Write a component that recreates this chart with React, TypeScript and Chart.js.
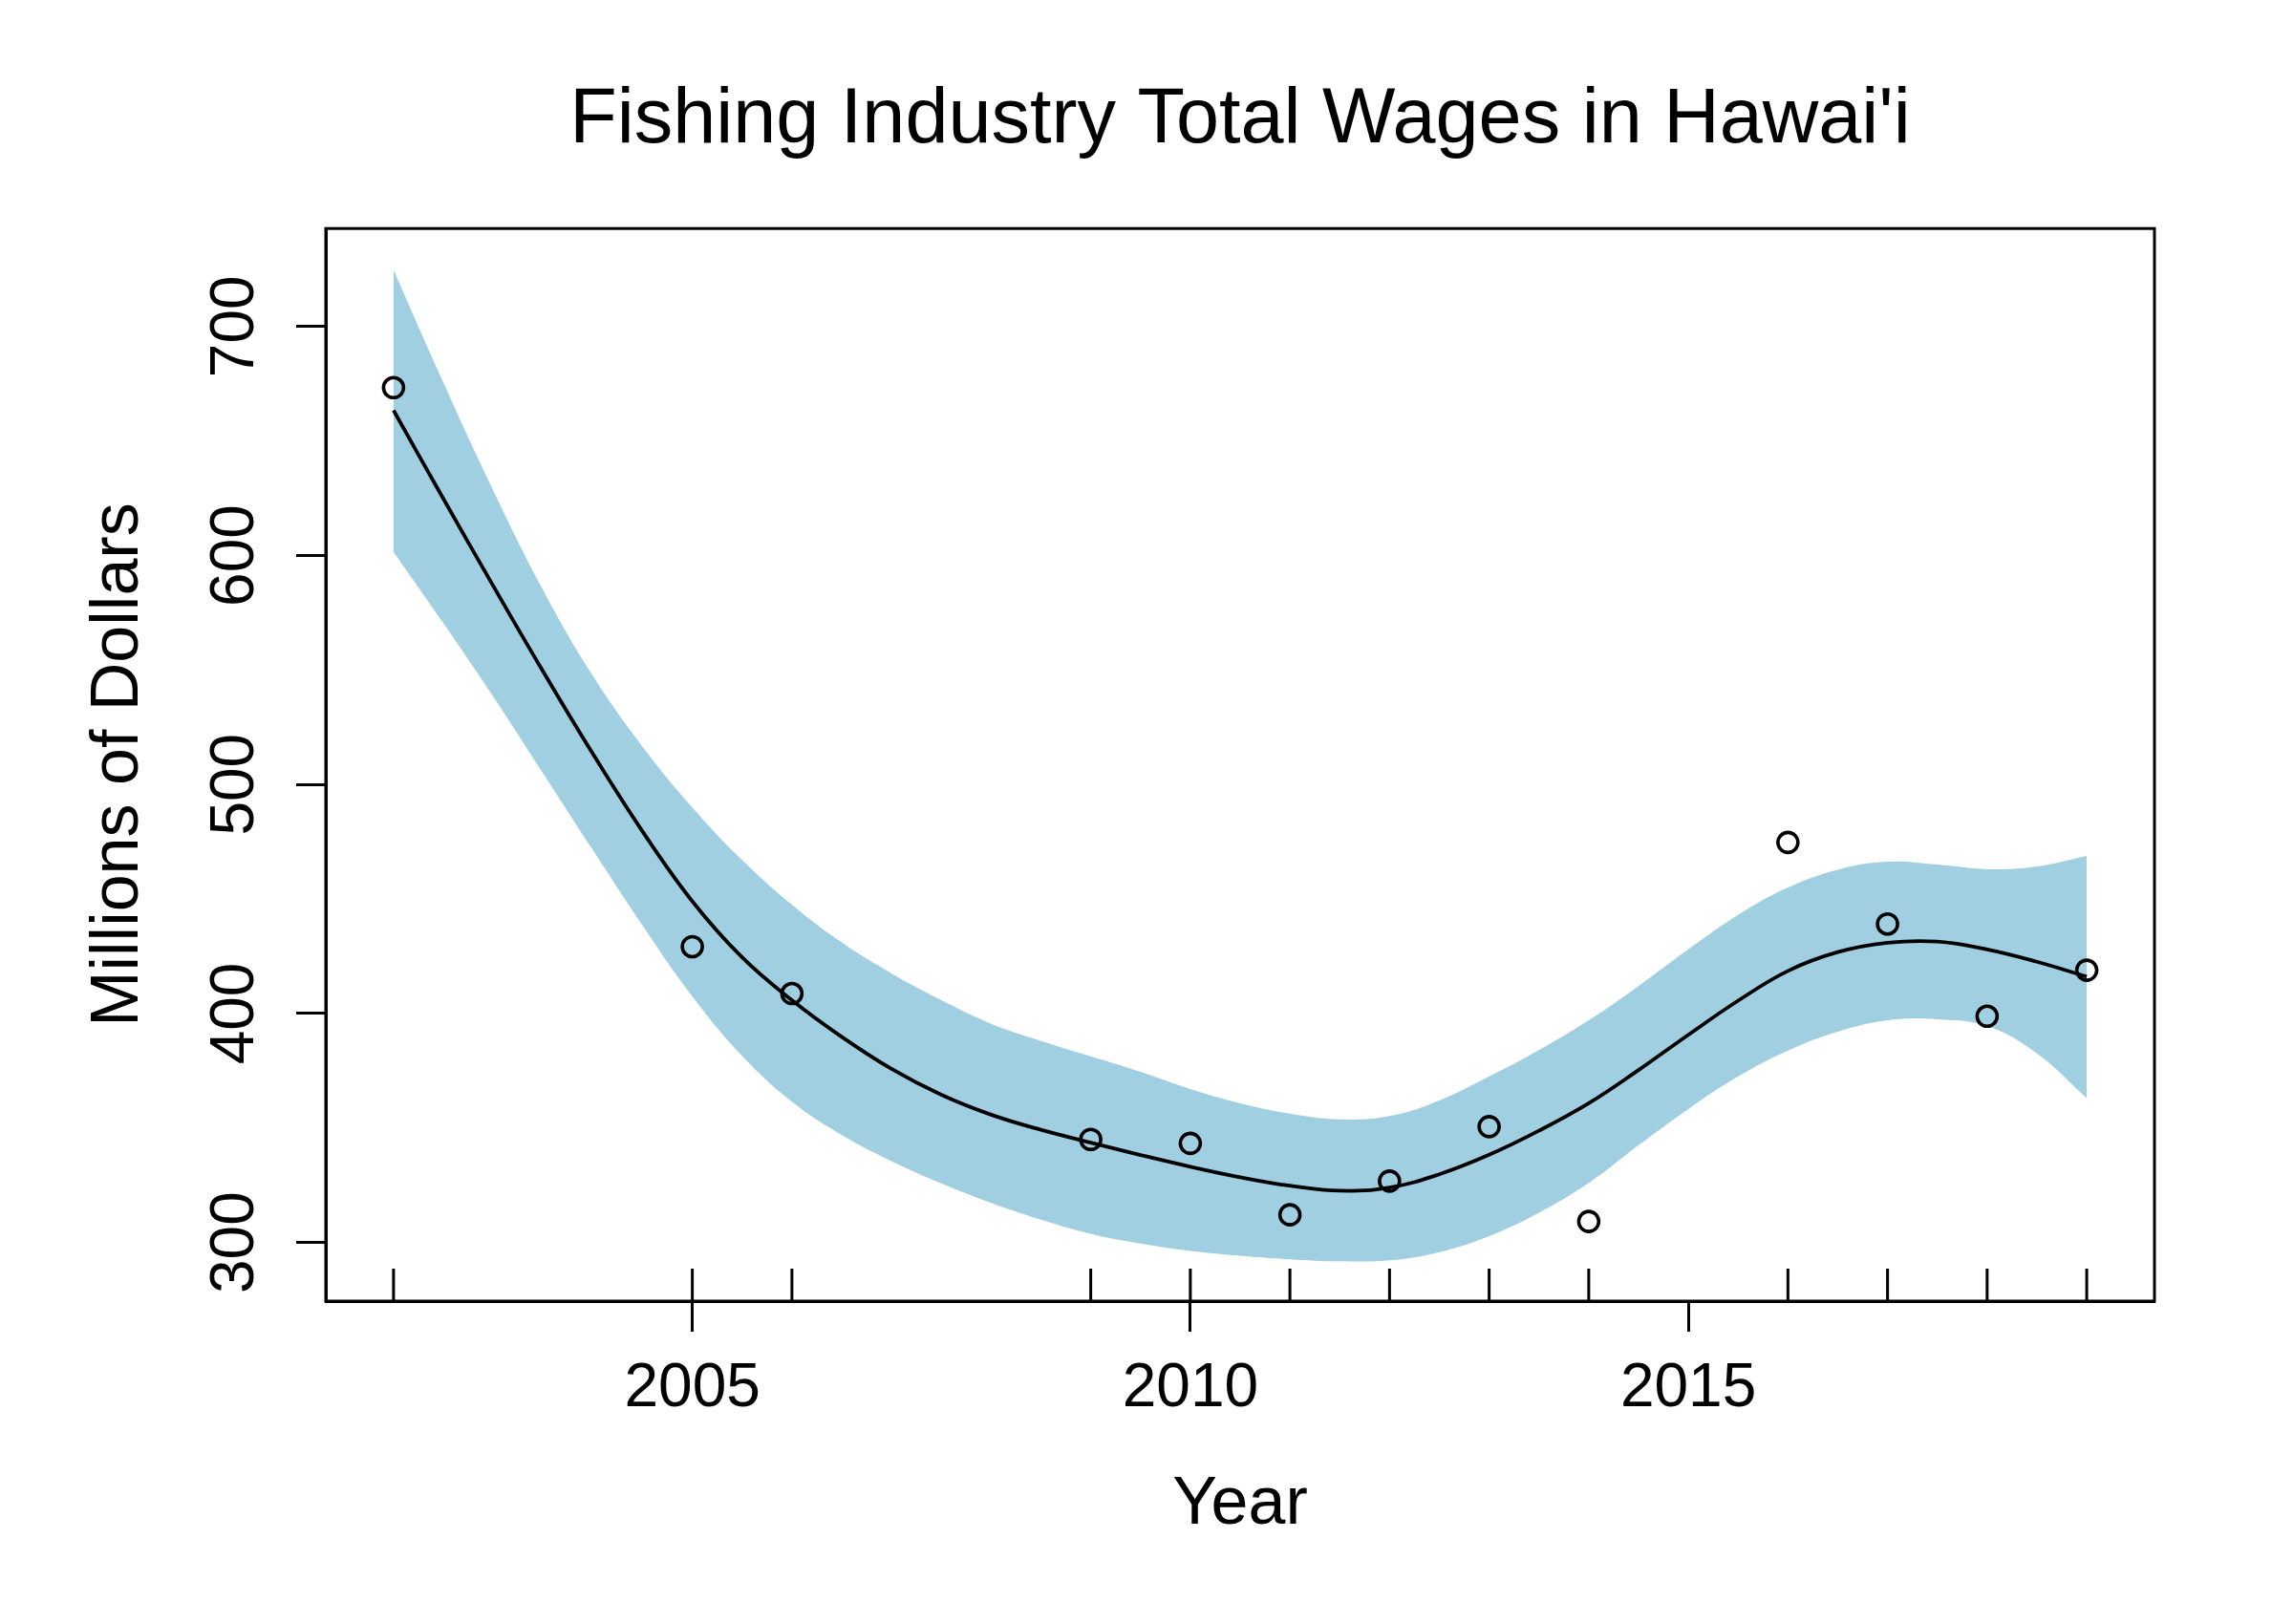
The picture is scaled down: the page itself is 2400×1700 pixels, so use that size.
import React, { useEffect, useRef } from "react";
import { Chart, registerables } from "chart.js";

Chart.register(...registerables);

const FONT = "'Liberation Sans', Arial, Helvetica, sans-serif";

// Observed annual values (millions of dollars)
const years = [2002, 2005, 2006, 2009, 2010, 2011, 2012, 2013, 2014, 2016, 2017, 2018, 2019];
const wages = [673.3, 429.2, 408.7, 345.0, 343.3, 312.1, 326.8, 350.6, 309.2, 474.7, 439.1, 398.8, 418.9];

// Smoothed fit and confidence band, read at half-year steps
const fitYears = [
  2002, 2002.5, 2003, 2003.5, 2004, 2004.5, 2005, 2005.5, 2006, 2006.5, 2007, 2007.5,
  2008, 2008.5, 2009, 2009.5, 2010, 2010.5, 2011, 2011.5, 2012, 2012.5, 2013, 2013.5,
  2014, 2014.5, 2015, 2015.5, 2016, 2016.5, 2017, 2017.5, 2018, 2018.5, 2019,
];
const fitValues = [
  663.4, 624.8, 586.8, 549.5, 513.5, 479.5, 449.0, 424.5, 405.8, 389.8, 375.8, 364.5,
  355.8, 349.2, 343.6, 338.2, 333.1, 328.5, 324.8, 322.6, 324.0, 329.8, 338.3, 348.8,
  360.8, 375.3, 390.7, 405.6, 418.6, 426.8, 430.9, 431.4, 428.0, 422.6, 416.1,
];
const upperValues = [
  724.6, 675.5, 628.5, 585.0, 547.5, 516.5, 490.0, 467.0, 447.5, 431.0, 417.5, 405.8,
  395.5, 388.0, 381.3, 374.5, 367.0, 360.8, 356.3, 353.8, 355.2, 362.0, 372.5, 384.0,
  397.0, 412.0, 428.0, 443.0, 455.0, 462.8, 466.3, 465.0, 463.0, 464.2, 468.8,
];
const lowerValues = [
  601.6, 570.5, 538.5, 505.0, 471.5, 438.5, 407.5, 381.5, 361.5, 347.0, 335.5, 325.8,
  317.3, 310.0, 303.8, 299.5, 296.3, 294.2, 292.7, 291.8, 292.2, 295.8, 302.8, 313.0,
  326.0, 342.5, 358.3, 372.5, 383.8, 392.0, 397.0, 397.5, 394.5, 382.5, 363.0,
];

const xTicks = [2005, 2010, 2015];
const yTicks = [300, 400, 500, 600, 700];

const TITLE = "Fishing Industry Total Wages in Hawai'i";
const X_TITLE = "Year";
const Y_TITLE = "Millions of Dollars";

const BAND_COLOR = "rgb(159, 207, 224)";

const toXY = (xs: number[], ys: number[]) => xs.map((x, i) => ({ x, y: ys[i] }));

export default function App() {
  const ref = useRef<HTMLCanvasElement | null>(null);

  useEffect(() => {
    const canvas = ref.current;
    if (!canvas) return;
    Chart.defaults.font.family = FONT;
    Chart.defaults.color = "#000";

    const boxRug = {
      id: "boxRug",
      afterDatasetsDraw(chart: any) {
        const { ctx, chartArea: a, scales } = chart;
        ctx.save();
        ctx.strokeStyle = "#000";
        ctx.lineWidth = 3;
        ctx.lineCap = "butt";
        ctx.beginPath();
        for (const yr of years) {
          const x = scales.x.getPixelForValue(yr);
          ctx.moveTo(x, a.bottom);
          ctx.lineTo(x, a.bottom - 34);
        }
        ctx.stroke();
        ctx.strokeRect(a.left, a.top, a.right - a.left, a.bottom - a.top);
        ctx.restore();
      },
    };

    const chart = new Chart(canvas, {
      type: "line",
      data: {
        datasets: [
          {
            label: "Observed",
            data: toXY(years, wages),
            showLine: false,
            pointRadius: 10.5,
            pointHoverRadius: 10.5,
            pointBorderWidth: 3.6,
            pointBorderColor: "#000",
            pointBackgroundColor: "rgba(0,0,0,0)",
            borderColor: "#000",
            order: 0,
          },
          {
            label: "Fit",
            data: toXY(fitYears, fitValues),
            borderColor: "#000",
            borderWidth: 3.8,
            pointRadius: 0,
            fill: false,
            tension: 0.4,
            order: 1,
          },
          {
            label: "Upper",
            data: toXY(fitYears, upperValues),
            borderWidth: 0,
            borderColor: "rgba(0,0,0,0)",
            backgroundColor: BAND_COLOR,
            pointRadius: 0,
            fill: "+1",
            tension: 0.4,
            order: 2,
          },
          {
            label: "Lower",
            data: toXY(fitYears, lowerValues),
            borderWidth: 0,
            borderColor: "rgba(0,0,0,0)",
            backgroundColor: BAND_COLOR,
            pointRadius: 0,
            fill: false,
            tension: 0.4,
            order: 3,
          },
        ],
      },
      options: {
        animation: false,
        responsive: false,
        devicePixelRatio: 1,
        events: [],
        layout: { padding: { left: 0, right: 145, top: 0, bottom: 0 } },
        plugins: {
          legend: { display: false },
          tooltip: { enabled: false },
          title: {
            display: true,
            text: TITLE,
            color: "#000",
            fullSize: false,
            font: { family: FONT, size: 81, weight: "normal" },
            padding: { top: 78, bottom: 64 },
          },
        },
        scales: {
          x: {
            type: "linear",
            min: 2001.32,
            max: 2019.68,
            afterBuildTicks: (s: any) => {
              s.ticks = xTicks.map((v) => ({ value: v }));
            },
            afterFit: (s: any) => {
              s.height = 338;
            },
            grid: {
              display: true,
              drawOnChartArea: false,
              drawTicks: true,
              tickLength: 32,
              tickWidth: 3,
              tickColor: "#000",
              color: "#000",
            },
            border: { display: true, color: "#000", width: 3 },
            ticks: {
              color: "#000",
              font: { family: FONT, size: 64 },
              padding: 22,
              maxRotation: 0,
              minRotation: 0,
              callback: (v: any) => String(v),
            },
            title: {
              display: true,
              text: X_TITLE,
              color: "#000",
              font: { family: FONT, size: 70 },
              padding: { top: 0, bottom: 82 },
            },
          },
          y: {
            type: "linear",
            min: 274.4,
            max: 742.8,
            afterBuildTicks: (s: any) => {
              s.ticks = yTicks.map((v) => ({ value: v }));
            },
            afterFit: (s: any) => {
              s.width = 341;
            },
            grid: {
              display: true,
              drawOnChartArea: false,
              drawTicks: true,
              tickLength: 31,
              tickWidth: 3,
              tickColor: "#000",
              color: "#000",
            },
            border: { display: true, color: "#000", width: 3 },
            ticks: {
              color: "#000",
              font: { family: FONT, size: 64 },
              padding: 9,
              minRotation: 90,
              maxRotation: 90,
              crossAlign: "center",
              callback: (v: any) => String(v),
            },
            title: {
              display: true,
              text: Y_TITLE,
              color: "#000",
              font: { family: FONT, size: 70 },
              padding: { top: 83, bottom: 0 },
            },
          },
        },
      },
      plugins: [boxRug],
    } as any);

    return () => chart.destroy();
  }, []);

  return (
    <div
      style={{
        position: "fixed",
        left: 0,
        top: 0,
        width: 2400,
        height: 1700,
        background: "#fff",
      }}
    >
      <canvas ref={ref} width={2400} height={1700} style={{ display: "block" }} />
    </div>
  );
}
